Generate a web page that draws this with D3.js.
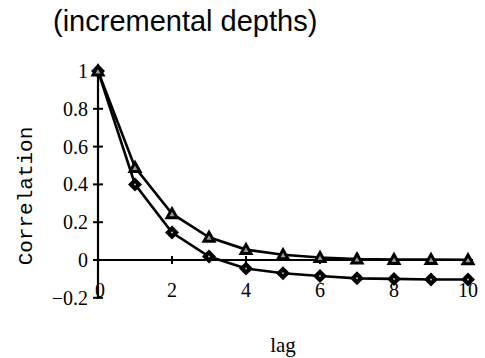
<!DOCTYPE html>
<html>
<head>
<meta charset="utf-8">
<script src="https://cdn.jsdelivr.net/npm/d3@7"></script>
<style>
  body { margin: 0; background: #fff; }
  svg { display: block; }
</style>
</head>
<body>
<div id="chart"></div>
<script>
// values
var lags = [0, 1, 2, 3, 4, 5, 6, 7, 8, 9, 10];
var triangleSeries = [1.0, 0.49, 0.245, 0.12, 0.055, 0.028, 0.013, 0.005, 0.003, 0.002, 0.001];
var diamondSeries = [1.0, 0.40, 0.145, 0.018, -0.045, -0.07, -0.085, -0.097, -0.1, -0.103, -0.103];
var xTicks = [0, 2, 4, 6, 8, 10];
var yTicks = [-0.2, 0, 0.2, 0.4, 0.6, 0.8, 1];

var width = 485, height = 358;

var x = d3.scaleLinear().domain([0, 10]).range([98, 468]);
var y = d3.scaleLinear().domain([0, 1]).range([260, 71]);

var svg = d3.select("#chart")
  .append("svg")
  .attr("width", width)
  .attr("height", height);

// title
svg.append("text")
  .attr("x", 53)
  .attr("y", 31)
  .style("font-family", "Liberation Sans, Arial, sans-serif")
  .style("font-size", "29px")
  .text("(incremental depths)");

// y axis line
svg.append("line")
  .attr("x1", x(0)).attr("x2", x(0))
  .attr("y1", y(-0.2) + 1).attr("y2", y(1) - 2)
  .style("stroke", "#000")
  .style("stroke-width", 2.2);

// x axis line
svg.append("line")
  .attr("x1", x(0)).attr("x2", x(10) + 5)
  .attr("y1", y(0)).attr("y2", y(0))
  .style("stroke", "#000")
  .style("stroke-width", 2.2);

// y ticks cross the axis
svg.selectAll(".ytick")
  .data(yTicks)
  .enter()
  .append("line")
  .attr("class", "ytick")
  .attr("x1", x(0) - 5).attr("x2", x(0) + 5)
  .attr("y1", function (d) { return y(d); })
  .attr("y2", function (d) { return y(d); })
  .style("stroke", "#000")
  .style("stroke-width", 2);

svg.selectAll(".ylab")
  .data(yTicks)
  .enter()
  .append("text")
  .attr("class", "ylab")
  .attr("x", 88)
  .attr("y", function (d) { return y(d) + 7; })
  .attr("text-anchor", "end")
  .style("font-family", "Liberation Serif, Times New Roman, serif")
  .style("font-size", "20px")
  .text(function (d) { return d < 0 ? "\u2212" + Math.abs(d) : String(d); });

// x ticks
svg.selectAll(".xtick")
  .data(xTicks.filter(function (d) { return d > 0; }))
  .enter()
  .append("line")
  .attr("class", "xtick")
  .attr("x1", function (d) { return x(d); })
  .attr("x2", function (d) { return x(d); })
  .attr("y1", y(0) - 4).attr("y2", y(0) + 4)
  .style("stroke", "#000")
  .style("stroke-width", 2);

svg.selectAll(".xlab")
  .data(xTicks)
  .enter()
  .append("text")
  .attr("class", "xlab")
  .attr("x", function (d) { return d === 0 ? x(d) + 2 : x(d); })
  .attr("y", 297)
  .attr("text-anchor", "middle")
  .style("font-family", "Liberation Serif, Times New Roman, serif")
  .style("font-size", "20px")
  .text(function (d) { return d; });

// axis titles
svg.append("text")
  .attr("transform", "translate(32,196) rotate(-90)")
  .attr("text-anchor", "middle")
  .style("font-family", "Liberation Mono, Courier New, monospace")
  .style("font-size", "21px")
  .text("Correlation");

svg.append("text")
  .attr("x", 283)
  .attr("y", 352)
  .attr("text-anchor", "middle")
  .style("font-family", "Liberation Serif, Times New Roman, serif")
  .style("font-size", "21px")
  .text("lag");

var line = d3.line()
  .x(function (d) { return x(d[0]); })
  .y(function (d) { return y(d[1]); });

var diamondData = lags.map(function (l, i) { return [l, diamondSeries[i]]; });
var triangleData = lags.map(function (l, i) { return [l, triangleSeries[i]]; });

svg.append("path")
  .datum(diamondData)
  .attr("d", line)
  .style("fill", "none")
  .style("stroke", "#000")
  .style("stroke-width", 2.6);

svg.append("path")
  .datum(triangleData)
  .attr("d", line)
  .style("fill", "none")
  .style("stroke", "#000")
  .style("stroke-width", 2.6);

// diamond markers
var dia = svg.selectAll(".dia")
  .data(diamondData)
  .enter()
  .append("g")
  .attr("class", "dia")
  .attr("transform", function (d) { return "translate(" + x(d[0]) + "," + y(d[1]) + ")"; });
dia.append("path")
  .attr("d", "M0,-7L7,0L0,7L-7,0Z")
  .style("fill", "#000");
dia.append("circle")
  .attr("r", 1)
  .style("fill", "#bbb");

// triangle markers
var tri = svg.selectAll(".tri")
  .data(triangleData)
  .enter()
  .append("g")
  .attr("class", "tri")
  .attr("transform", function (d) { return "translate(" + x(d[0]) + "," + y(d[1]) + ")"; });
tri.append("path")
  .attr("d", "M0,-8L7.5,5.5L-7.5,5.5Z")
  .style("fill", "#000");
tri.append("path")
  .attr("d", "M0,-2L2.5,2.5L-2.5,2.5Z")
  .style("fill", "#999");
</script>
</body>
</html>
